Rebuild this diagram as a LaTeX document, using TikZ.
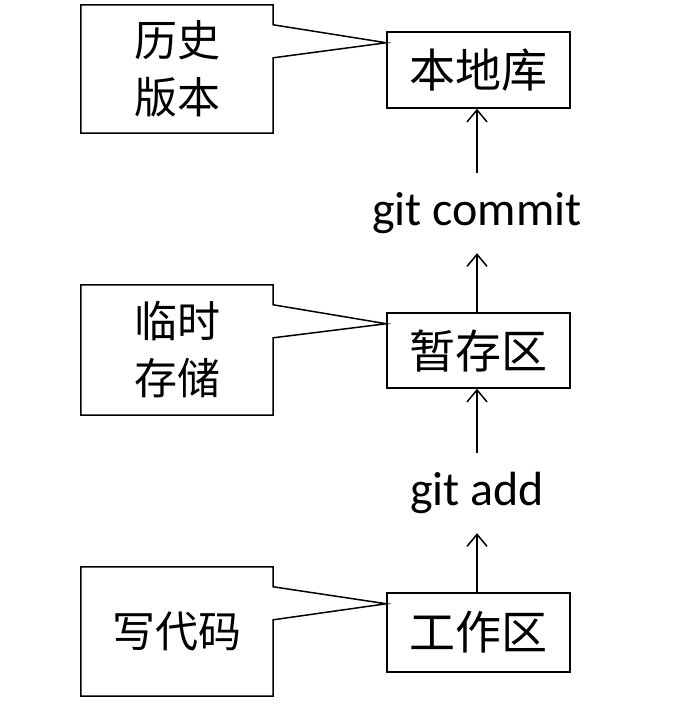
\documentclass[tikz,border=0pt]{standalone}
\usepackage{fontspec}
\setmainfont{Carlito}
\newfontfamily\cjk{Noto Sans CJK SC}
\usetikzlibrary{arrows.meta,calc}
\begin{document}
\begin{tikzpicture}[x=1pt,y=-1pt,
  areabox/.style={draw,line width=1.5pt,minimum width=183pt,inner sep=0pt,
    font=\cjk\fontsize{46}{57}\selectfont},
  notebox/.style={minimum width=192pt,inner sep=0pt,align=center,
    font=\cjk\fontsize{43}{57}\selectfont},
  cmdlabel/.style={minimum height=80pt,inner sep=0pt,
    font=\fontsize{48}{56}\selectfont},
  flow/.style={line width=1.5pt,-{Straight Barb[length=12pt,width=20pt,line width=1.5pt]}},
  outline/.style={line width=1.5pt,line join=miter}]
\useasboundingbox (0,0) rectangle (692,722);

% storage areas
\node[areabox,minimum height=76pt] (local) at (478.5,70) {本地库};
\node[areabox,minimum height=75pt] (stage) at (478.5,350.5) {暂存区};
\node[areabox,minimum height=79pt] (work)  at (478.5,632.5) {工作区};

% commands between the areas
\node[cmdlabel] (commit) at (477,213) {git commit};
\node[cmdlabel] (add)    at (477,493) {git add};

\draw[flow] (work.north -| add.south) -- (add.south);
\draw[flow] (add.north) -- (stage.south -| add.north);
\draw[flow] (stage.north -| commit.south) -- (commit.south);
\draw[flow] (commit.north) -- (local.south -| commit.north);

% callout notes
\node[notebox,minimum height=128pt] (hist) at (177,69) {历史\\版本};
\node[notebox,minimum height=130pt] (temp) at (177,350) {临时\\存储};
\node[notebox,minimum height=129pt] (code) at (177,631.5) {写代码};

\foreach \n/\t in {hist/local,temp/stage,code/work}{
  \draw[outline] (\n.north east) -- ([yshift=-20pt]\n.north east)
    -- ([yshift=-11.5pt]\t.north west)
    -- ([yshift=-53pt]\n.north east) -- (\n.south east)
    -- (\n.south west) -- (\n.north west) -- cycle;
}
\end{tikzpicture}
\end{document}
